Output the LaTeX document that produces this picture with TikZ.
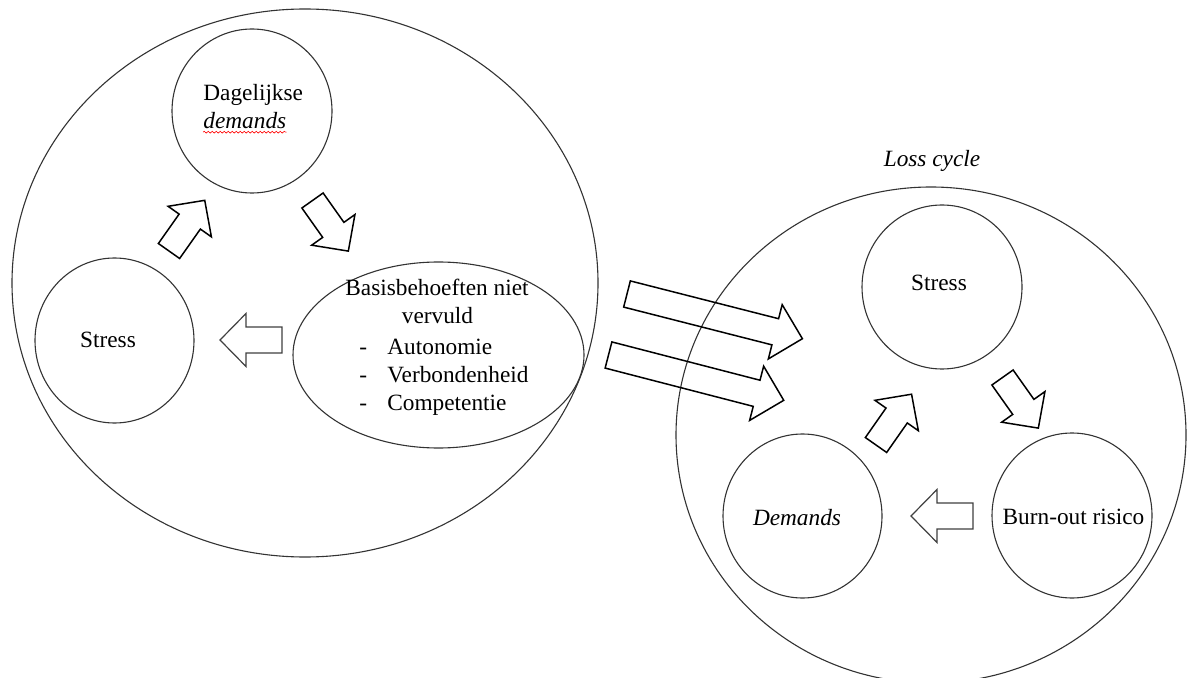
\documentclass[tikz,border=0pt]{standalone}
\usepackage{fontspec}
\setmainfont{Liberation Serif}
\usetikzlibrary{shapes.geometric,decorations.pathmorphing}
\tikzset{
  ring/.style={draw=black!80, line width=0.55pt, ellipse, inner sep=0pt, outer sep=0pt},
  lbl/.style={font=\fontsize{11.65pt}{14pt}\selectfont, inner sep=0pt, anchor=base},
  arr/.style={draw=black, line width=0.75pt, line join=miter},
  arrgray/.style={draw=black!75, line width=0.6pt, line join=miter},
  smallarrow/.pic={\path[arr] (0,-13) -- (36,-13) -- (36,-26.5) -- (62,0) -- (36,26.5) -- (36,13) -- (0,13) -- cycle;},
  smallarrowgray/.pic={\path[arrgray] (0,-13) -- (36,-13) -- (36,-26.5) -- (62,0) -- (36,26.5) -- (36,13) -- (0,13) -- cycle;},
  bigarrow/.pic={\path[arr] (0,-13.5) -- (153,-13.5) -- (153,-28) -- (181,0) -- (153,28) -- (153,13.5) -- (0,13.5) -- cycle;},
}
\begin{document}
\begin{tikzpicture}[x=0.5pt,y=-0.5pt]
\path[use as bounding box, clip] (0,0) rectangle (1187,678);
\fill[white] (0,0) rectangle (1187,678);

% ---- left cycle ----
\node[ring, minimum width=293pt, minimum height=274pt] (leftbig) at (305,283) {};
\node[ring, minimum width=80pt, minimum height=82pt] (daily) at (252,111) {};
\node[ring, minimum width=79.5pt, minimum height=82.5pt] (stressL) at (114.5,340.5) {};
\node[ring, minimum width=145.5pt, minimum height=93pt] (basis) at (438.5,355) {};

\node[lbl, anchor=base west] (dailyA) at (203,101) {Dagelijkse};
\node[lbl, anchor=base west] (dailyB) at (203,129) {\itshape demands};
\draw[red, line width=0.3pt, decorate, decoration={snake, amplitude=0.45pt, segment length=2pt}]
  ([yshift=-1.6pt]dailyB.base west) -- ([yshift=-1.6pt]dailyB.base east);

\node[lbl] (stressLt) at (108,348) {Stress};

\node[lbl] (basisA) at (437,295.5) {Basisbehoeften niet};
\node[lbl] (basisB) at (437.5,323) {vervuld};
\node[lbl, anchor=base west] (d1) at (359,354) {-};
\node[lbl, anchor=base west] (i1) at (387,354) {Autonomie};
\node[lbl, anchor=base west] (d2) at (359,382) {-};
\node[lbl, anchor=base west] (i2) at (387,382) {Verbondenheid};
\node[lbl, anchor=base west] (d3) at (359,410) {-};
\node[lbl, anchor=base west] (i3) at (387,410) {Competentie};

\pic[rotate=54.8] at (169,251) {smallarrow};
\pic[rotate=-54.7] at (312.5,200.5) {smallarrow};
\pic[rotate=180] at (282,340) {smallarrowgray};

% ---- right cycle ----
\node[lbl] (losst) at (932,167) {\itshape Loss cycle};
\node[ring, minimum width=255pt, minimum height=248pt] (rightbig) at (931,435) {};
\node[ring, minimum width=80pt, minimum height=82pt] (stressR) at (942,287) {};
\node[ring, minimum width=79.5pt, minimum height=82pt] (demands) at (802.5,516) {};
\node[ring, minimum width=80pt, minimum height=82.5pt] (burnout) at (1072,515.5) {};

\node[lbl] (stressRt) at (939,291) {Stress};
\node[lbl] (demandst) at (797,525) {\itshape Demands};
\node[lbl] (burnoutt) at (1073.5,524) {Burn-out risico};

\pic[rotate=55] at (876,445) {smallarrow};
\pic[rotate=-54.7] at (1002.5,377.5) {smallarrow};
\pic[rotate=180] at (973,516) {smallarrowgray};

% ---- transfer arrows ----
\pic[rotate=-14.3] at (627,294) {bigarrow};
\pic[rotate=-14.5] at (608.5,355) {bigarrow};
\end{tikzpicture}
\end{document}
